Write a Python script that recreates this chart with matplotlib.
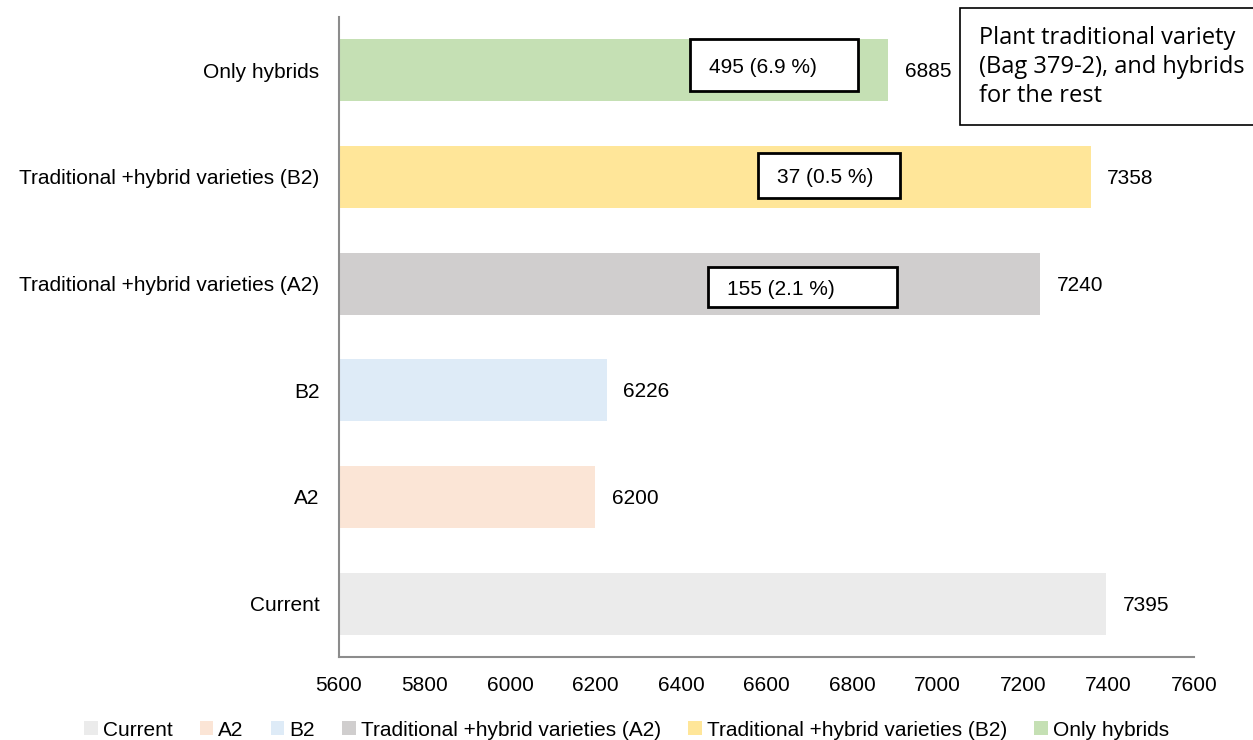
import matplotlib
matplotlib.use("Agg")
import matplotlib.pyplot as plt
from matplotlib.patches import Rectangle, Patch

categories = ["Current", "A2", "B2", "Traditional +hybrid varieties (A2)",
              "Traditional +hybrid varieties (B2)", "Only hybrids"]
values = [7395, 6200, 6226, 7240, 7358, 6885]
colors = ["#EBEBEB", "#FBE5D6", "#DEEBF7", "#D0CECE", "#FFE699", "#C5E0B4"]
xticks = [5600, 5800, 6000, 6200, 6400, 6600, 6800, 7000, 7200, 7400, 7600]

# difference annotations: (category index, label, box x-left, box width, y offset, box height)
diff_labels = [
    (5, "495 (6.9 %)", 6420, 395, 0.05, 0.48),
    (4, "37 (0.5 %)", 6580, 332, 0.015, 0.42),
    (3, "155 (2.1 %)", 6462, 444, -0.035, 0.375),
]
note_text = "Plant traditional variety\n(Bag 379-2), and hybrids\nfor the rest"

plt.rcParams['font.family'] = ['Liberation Sans', 'DejaVu Sans']
FS = 15

fig = plt.figure(figsize=(12.53, 7.40), dpi=100)
ax = fig.add_axes([339/1253, 1-657/740, (1194-339)/1253, (657-17)/740])

ypos = list(range(len(categories)))
ax.barh(ypos, [v - xticks[0] for v in values], left=xticks[0], height=0.58,
        color=colors, zorder=2)
ax.set_xlim(xticks[0], xticks[-1])
ax.set_ylim(-0.5, len(categories) - 0.5)
ax.set_yticks(ypos)
ax.set_yticklabels(categories, fontsize=FS)
ax.set_xticks(xticks)
ax.set_xticklabels([str(t) for t in xticks], fontsize=FS)
ax.tick_params(axis='both', length=0)
ax.tick_params(axis='y', pad=14)
ax.tick_params(axis='x', pad=14)
for s in ["top", "right"]:
    ax.spines[s].set_visible(False)
for s in ["left", "bottom"]:
    ax.spines[s].set_color("#8C8C8C")
    ax.spines[s].set_linewidth(1.5)

for y, v in zip(ypos, values):
    ax.annotate(str(v), xy=(v, y), xytext=(12, -1), textcoords="offset points",
                ha="left", va="center", fontsize=FS)

for idx, lab, x0, w, dy, h in diff_labels:
    yc = idx + dy
    ax.add_patch(Rectangle((x0, yc - h/2), w, h, facecolor="white",
                           edgecolor="black", linewidth=2, zorder=3))
    ax.text(x0 + 45, yc - 0.02, lab, ha="left", va="center", fontsize=FS, zorder=4)

# note box in figure coordinates
fig.patches.append(Rectangle((960/1253, 1-125/740), 300/1253, 117/740,
                             transform=fig.transFigure, facecolor="white",
                             edgecolor="black", linewidth=1.2))
fig.text(979/1253, 1-67/740, note_text, ha="left", va="center", fontsize=17,
         family=['Open Sans', 'DejaVu Sans'], linespacing=1.3)

handles = [Patch(facecolor=c, edgecolor='none') for c in colors]
fig.legend(handles, categories, loc="center", bbox_to_anchor=(0.5, 1-730/740),
           ncol=6, frameon=False, fontsize=FS, handlelength=0.65, handleheight=0.65,
           handletextpad=0.25, columnspacing=1.3)

fig.savefig("out.png", dpi=100)
